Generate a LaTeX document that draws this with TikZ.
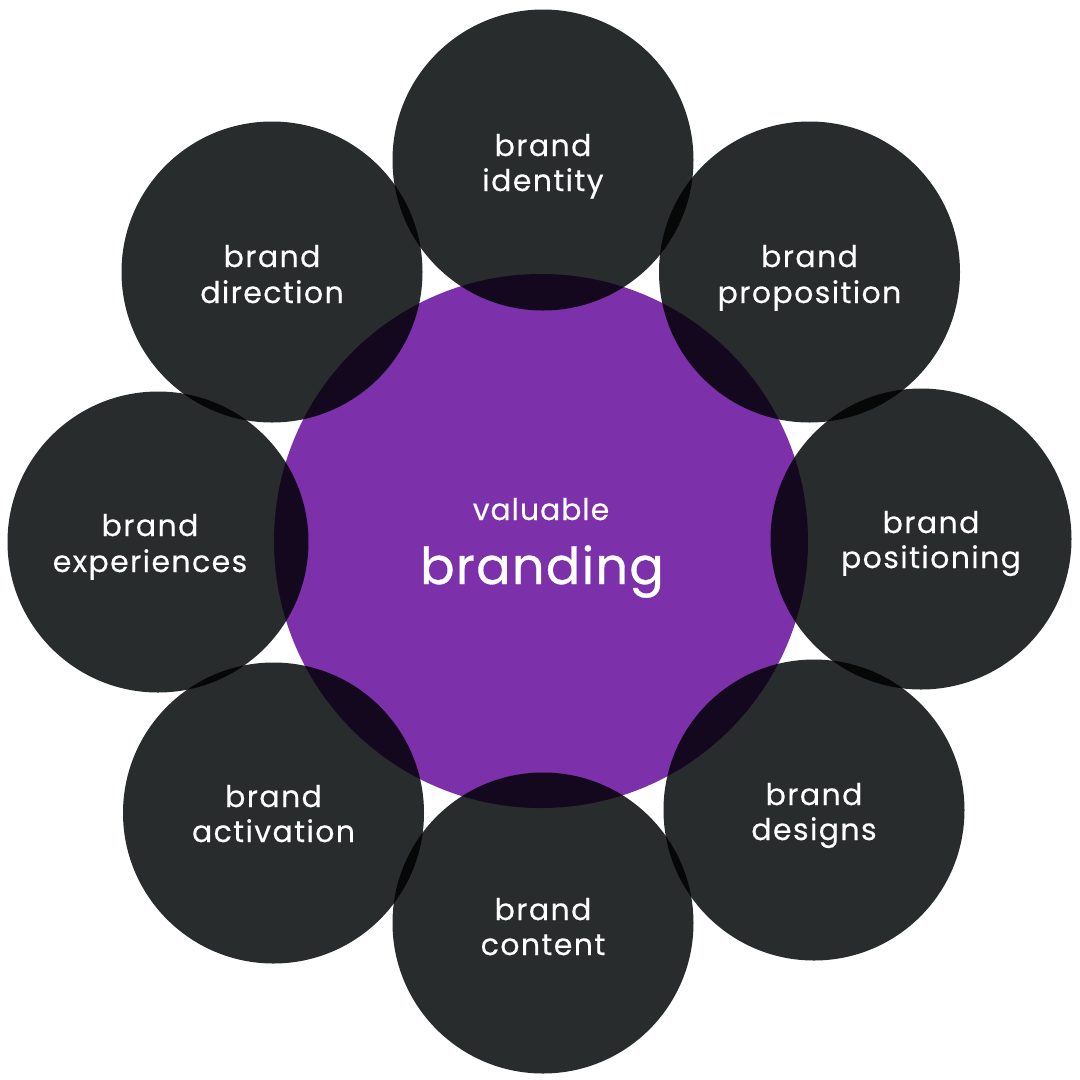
\documentclass[tikz,border=0pt]{standalone}
\usepackage{fontspec}
\setmainfont{Poppins}
\newfontfamily\labfont[LetterSpace=4.6,FakeBold=0.35]{Poppins}
\newfontfamily\subfont[LetterSpace=3,FakeBold=0.35]{Poppins}
\newfontfamily\bigfont[LetterSpace=2.5,FakeBold=0.6]{Poppins}
\definecolor{darkdisc}{HTML}{292C2D}
\definecolor{purpledisc}{HTML}{7C30A9}
\tikzset{
  disc/.style={circle,fill=darkdisc,minimum size=301pt,inner sep=0pt,blend mode=multiply},
  hub/.style={circle,fill=purpledisc,minimum size=534pt,inner sep=0pt},
  lab/.style={text=white,font=\labfont\fontsize{30}{30}\selectfont,anchor=base,inner sep=0pt},
}
\begin{document}
\begin{tikzpicture}[x=1pt,y=-1pt]
\useasboundingbox (0,0) rectangle (1080,1080);
\fill[white] (0,0) rectangle (1080,1080);
\node[hub] (hub) at (541,541) {};
\node[disc] (identity) at (543,160) {};
\node[disc] (proposition) at (809.5,272) {};
\node[disc] (positioning) at (921,539) {};
\node[disc] (designs) at (814,810) {};
\node[disc] (content) at (543,923) {};
\node[disc] (activation) at (273.5,813) {};
\node[disc] (experiences) at (158,542) {};
\node[disc] (direction) at (272,272) {};
\node[lab] at (543,156) {brand};
\node[lab] at (543,191) {identity};
\node[lab] at (809.5,267) {brand};
\node[lab] at (809.5,303) {proposition};
\node[lab] at (931,533) {brand};
\node[lab] at (931,568) {positioning};
\node[lab] at (814,805) {brand};
\node[lab] at (814,840) {designs};
\node[lab] at (543,920) {brand};
\node[lab] at (543,955) {content};
\node[lab] at (273.5,807) {brand};
\node[lab] at (273.5,842) {activation};
\node[lab] at (150,536) {brand};
\node[lab] at (150,572) {experiences};
\node[lab] at (272,267) {brand};
\node[lab] at (272,303) {direction};
\node[lab,font=\subfont\fontsize{30}{30}\selectfont] at (541,520) {valuable};
\node[lab,font=\bigfont\fontsize{51}{51}\selectfont] at (542,584) {branding};
\end{tikzpicture}
\end{document}
